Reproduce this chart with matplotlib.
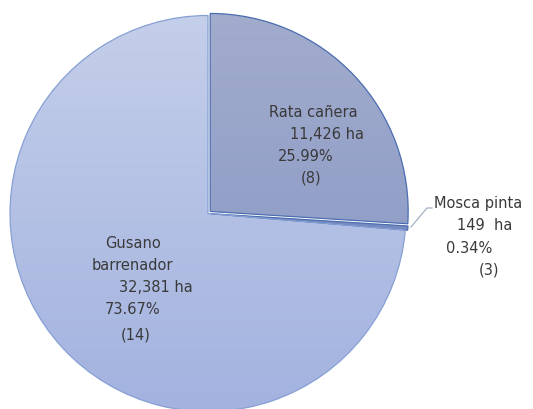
import numpy as np
import matplotlib
matplotlib.use("Agg")
import matplotlib.pyplot as plt
from matplotlib.colors import LinearSegmentedColormap

categories = ["Rata cañera", "Mosca pinta", "Gusano barrenador"]
hectares = [11426, 149, 32381]
percents = [25.99, 0.34, 73.67]
counts = [8, 3, 14]

W, H = 533, 409
fig = plt.figure(figsize=(W / 100, H / 100), dpi=100)
ax = fig.add_axes([0, 0, 1, 1])
cx, cy, R = 208, 213.5, 198  # pixel center / radius


def px(x, y):
    return ((x - cx) / R, (cy - y) / R)


ax.set_aspect("equal")
ax.axis("off")

wedges, _ = ax.pie(percents, startangle=90, counterclock=False,
                   explode=[0.015, 0.012, 0.0], radius=1.0,
                   colors=["none"] * 3,
                   wedgeprops=dict(linewidth=0.9))
edge_cols = ["#4a6cb0", "#4a6cb0", "#86a0d4"]
grads = [("#a3adcd", "#8292c2"), ("#8292c2", "#6f84bf"), ("#c6d0ea", "#a1b1df")]
grad = np.linspace(0, 1, 256).reshape(-1, 1)
for w, ec, (c0, c1) in zip(wedges, edge_cols, grads):
    cmap = LinearSegmentedColormap.from_list("g", [c0, c1])
    im = ax.imshow(grad, cmap=cmap, extent=[-1.1, 1.1, -1.1, 1.1],
                   origin="upper", aspect="auto", zorder=1)
    im.set_clip_path(w)
    w.set_edgecolor(ec)
    w.set_zorder(2)

ax.set_xlim(px(0, 0)[0], px(W, 0)[0])
ax.set_ylim(px(0, H)[1], px(0, 0)[1])

fs = 10.5
tc = "#3a3a3a"
font = "DejaVu Sans"


def label(x, y, s, ha="center"):
    ax.text(*px(x, y), s, ha=ha, va="center", fontsize=fs, color=tc,
            family=font, zorder=5)


# Rata cañera
label(313, 112, categories[0])
label(327, 134, f"{hectares[0]:,} ha")
label(306, 156, f"{percents[0]:.2f}%")
label(311, 178, f"({counts[0]})")
# Mosca pinta
label(434, 203, categories[1], ha="left")
label(485, 225, f"{hectares[1]:,}  ha")
label(469, 248, f"{percents[1]:.2f}%")
label(489, 270, f"({counts[1]})")
# Gusano barrenador
g1, g2 = categories[2].split(" ")
label(133, 243, g1)
label(132, 265, g2)
label(156, 287, f"{hectares[2]:,} ha")
label(133, 310, f"{percents[2]:.2f}%")
label(136, 335, f"({counts[2]})")

# leader line for Mosca pinta
lx, ly = zip(px(432, 208), px(427, 208), px(411, 227))
ax.plot(lx, ly, color="#a6b0c4", lw=0.9, zorder=4)

fig.savefig("out.png", dpi=100)
